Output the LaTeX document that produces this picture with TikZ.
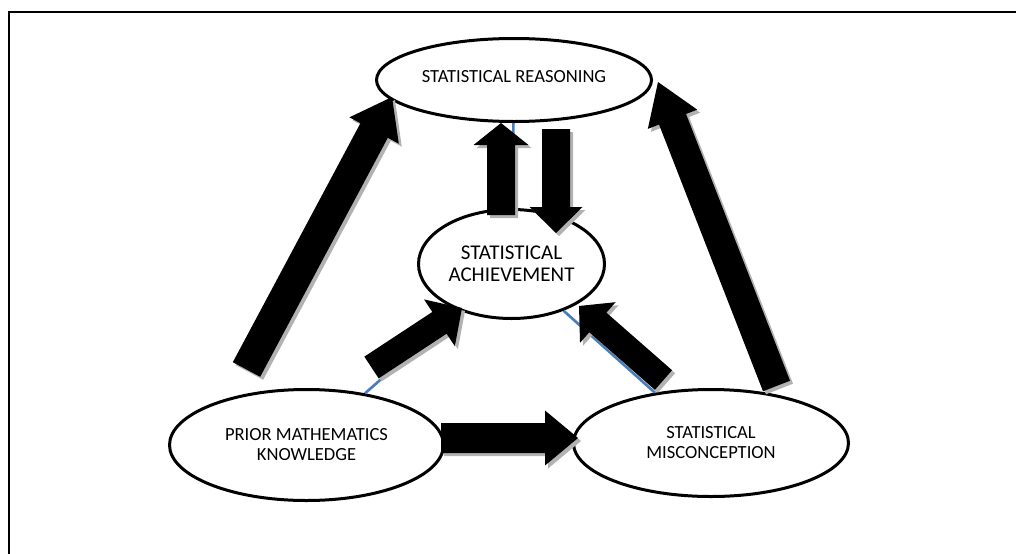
\documentclass[tikz,border=0pt]{standalone}
\usepackage{fontspec}
\setmainfont{Carlito}
\usetikzlibrary{shapes.geometric,calc}

\definecolor{linkblue}{HTML}{4A7EBB}

\tikzset{
  concept/.style={ellipse, draw=black, line width=2.25pt, fill=white,
    inner sep=0pt, align=center, text=black},
  conceptfont/.style={font=\fontsize{13.9pt}{15pt}\selectfont},
  bigfont/.style={font=\fontsize{15.75pt}{16.2pt}\selectfont},
  linkline/.style={draw=linkblue, line width=2pt},
  frameline/.style={draw=black, line width=1pt},
  arrowbody/.style={fill=black},
  arrowshadow/.style={fill=gray!60, transform canvas={xshift=2.25pt,yshift=-2.25pt}},
}

% Block arrow: #1 tail centre, #2 tip, #3 shaft half width,
% #4 head half width, #5 head length (all in px units)
\newcommand\blockarrow[5]{%
  \pgfmathsetlengthmacro\baShaft{#3*0.75pt}%
  \pgfmathsetlengthmacro\baHead{#4*0.75pt}%
  \pgfmathsetlengthmacro\baLen{#5*0.75pt}%
  \coordinate (ba-c) at ($(#2)!\baLen!(#1)$);
  \path[arrowshadow]
    ($(#1)!\baShaft!90:(#2)$) -- ($(ba-c)!\baShaft!90:(#2)$) --
    ($(ba-c)!\baHead!90:(#2)$) -- (#2) -- ($(ba-c)!\baHead!-90:(#2)$) --
    ($(ba-c)!\baShaft!-90:(#2)$) -- ($(#1)!\baShaft!-90:(#2)$) -- cycle;
  \path[arrowbody]
    ($(#1)!\baShaft!90:(#2)$) -- ($(ba-c)!\baShaft!90:(#2)$) --
    ($(ba-c)!\baHead!90:(#2)$) -- (#2) -- ($(ba-c)!\baHead!-90:(#2)$) --
    ($(ba-c)!\baShaft!-90:(#2)$) -- ($(#1)!\baShaft!-90:(#2)$) -- cycle;
}

\begin{document}
\begin{tikzpicture}[x=0.75pt,y=-0.75pt]
  \useasboundingbox (0,0) rectangle (1016,553);
  \clip (0,0) rectangle (1016,553);

  % outer frame
  \draw[frameline] (9,12) rectangle (1040,580);

  % concepts
  \node[concept, conceptfont, text depth=6pt, minimum width=206.25pt, minimum height=62.25pt]
    (sr) at (514,80) {STATISTICAL REASONING};
  \node[concept, bigfont, minimum width=139.5pt, minimum height=81.75pt]
    (ach) at (511.5,264) {STATISTICAL\\ACHIEVEMENT};
  \node[concept, conceptfont, minimum width=205.5pt, minimum height=83.25pt]
    (pmk) at (306.5,445) {PRIOR MATHEMATICS\\KNOWLEDGE};
  \node[concept, conceptfont, minimum width=206.25pt, minimum height=80.25pt]
    (misc) at (711,443) {STATISTICAL\\MISCONCEPTION};

  % thin links between concepts
  \draw[linkline] (sr) -- (ach);
  \draw[linkline] (pmk) -- (ach);
  \draw[linkline] (misc) -- (ach);

  % arrow end points
  \coordinate (pmk-sr-tail) at (246.5,369.5);
  \coordinate (pmk-sr-tip)  at (392,97);
  \coordinate (ach-sr-tail) at (501,215);
  \coordinate (ach-sr-tip)  at (501,123);
  \coordinate (sr-ach-tail) at (556,129);
  \coordinate (sr-ach-tip)  at (556,233);
  \coordinate (pmk-ach-tail) at (371.5,367.5);
  \coordinate (pmk-ach-tip)  at (462,308);
  \coordinate (misc-ach-tail) at (663.5,380);
  \coordinate (misc-ach-tip)  at (579,306);
  \coordinate (misc-sr-tail) at (776.5,386);
  \coordinate (misc-sr-tip)  at (658,82);
  \coordinate (pmk-misc-tail) at (441,438);
  \coordinate (pmk-misc-tip)  at (578,438);

  % block arrows
  \blockarrow{pmk-sr-tail}{pmk-sr-tip}{15.5}{28}{38}
  \blockarrow{ach-sr-tail}{ach-sr-tip}{14}{27.5}{22}
  \blockarrow{sr-ach-tail}{sr-ach-tip}{14}{26.5}{26}
  \blockarrow{pmk-ach-tail}{pmk-ach-tip}{13}{28}{27}
  \blockarrow{misc-ach-tail}{misc-ach-tip}{13}{27}{25}
  \blockarrow{misc-sr-tail}{misc-sr-tip}{14.5}{26.5}{40}
  \blockarrow{pmk-misc-tail}{pmk-misc-tip}{15}{27.5}{33}
\end{tikzpicture}
\end{document}
